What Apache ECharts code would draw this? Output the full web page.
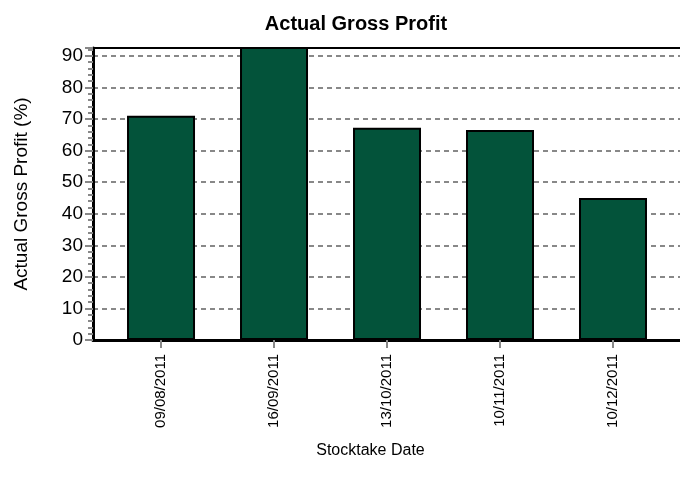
<!DOCTYPE html>
<html>
<head>
<meta charset="utf-8">
<script src="https://cdn.jsdelivr.net/npm/echarts@6/dist/echarts.min.js"></script>
<style>
  html, body { margin: 0; padding: 0; background: #fff; }
  #main { width: 680px; height: 486px; }
</style>
</head>
<body>
<div id="main"></div>
<script>
var categories = ['09/08/2011', '16/09/2011', '13/10/2011', '10/11/2011', '10/12/2011'];
var grossProfit = [71, 93, 67.2, 66.5, 45];
var yTicks = [0, 10, 20, 30, 40, 50, 60, 70, 80, 90];

var positions = categories.map(function (c, i) { return i + 1; });
var barData = categories.map(function (c, i) { return [i + 1, grossProfit[i]]; });

var font = '"Liberation Sans", Arial, sans-serif';

var myChart = echarts.init(document.getElementById('main'));
var option = {
    animation: false,
    title: {
        text: 'Actual Gross Profit',
        left: 351,
        top: 9,
        textAlign: 'center',
        textStyle: {
            fontFamily: font,
            fontSize: 20,
            fontWeight: 'bold',
            color: '#000'
        }
    },
    grid: {
        left: 93,
        right: 0,
        top: 48,
        bottom: 146
    },
    xAxis: [
        {
            type: 'value',
            min: 0.398,
            max: 5.593,
            name: 'Stocktake Date',
            nameLocation: 'middle',
            nameGap: 103,
            nameTextStyle: {
                fontFamily: font,
                fontSize: 16,
                color: '#000',
                padding: [0, 32, 0, 0]
            },
            axisLine: { lineStyle: { color: '#000', width: 3 } },
            axisTick: {
                show: true,
                customValues: positions,
                length: 8,
                lineStyle: { color: '#888', width: 2 }
            },
            axisLabel: {
                customValues: positions,
                rotate: 90,
                margin: 14,
                fontFamily: font,
                fontSize: 15,
                color: '#000',
                formatter: function (v) { return categories[Math.round(v) - 1]; }
            },
            splitLine: { show: false }
        },
        {
            type: 'value',
            position: 'top',
            min: 0.398,
            max: 5.593,
            axisLine: { show: true, lineStyle: { color: '#000', width: 2 } },
            axisTick: { show: false },
            axisLabel: { show: false },
            splitLine: { show: false }
        }
    ],
    yAxis: {
        type: 'value',
        min: 0,
        max: 92.5,
        interval: 10,
        name: 'Actual Gross Profit (%)',
        nameLocation: 'middle',
        nameGap: 62,
        nameTextStyle: {
            fontFamily: font,
            fontSize: 19,
            color: '#000'
        },
        axisLine: { show: true, lineStyle: { color: '#000', width: 3 } },
        axisTick: {
            show: true,
            length: 8,
            lineStyle: { color: '#888', width: 2 }
        },
        minorTick: {
            show: true,
            splitNumber: 5,
            length: 5,
            lineStyle: { color: '#888', width: 2 }
        },
        axisLabel: {
            customValues: yTicks,
            margin: 10,
            fontFamily: font,
            fontSize: 19,
            color: '#000'
        },
        splitLine: {
            show: true,
            lineStyle: { color: '#888', width: 2, type: [5, 4] }
        }
    },
    series: [{
        type: 'bar',
        data: barData,
        barWidth: 68,
        clip: true,
        itemStyle: {
            color: '#03533A',
            borderColor: '#000',
            borderWidth: 2
        }
    }]
};
myChart.setOption(option);
</script>
</body>
</html>
